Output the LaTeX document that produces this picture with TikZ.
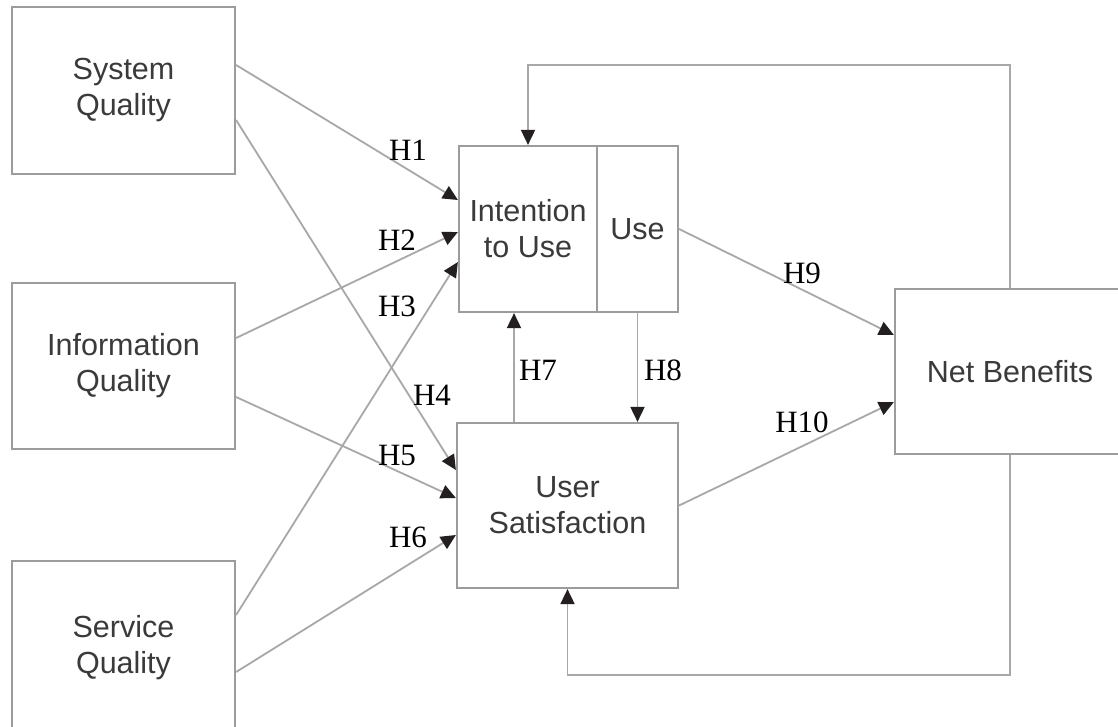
\documentclass[tikz,border=0pt]{standalone}
\usepackage{fontspec}
\setmainfont{Liberation Serif}
\newfontfamily\boxfont{Liberation Sans}
\usetikzlibrary{arrows.meta}
\definecolor{boxline}{HTML}{9C9C9C}
\definecolor{conn}{HTML}{A8A8A8}
\definecolor{boxtext}{HTML}{3A3A3A}
\definecolor{tipcol}{HTML}{231F20}
\tikzset{
  box/.style={draw=boxline, line width=2.2pt, fill=white, inner sep=0pt, align=center,
    text=boxtext, font=\boxfont\fontsize{30.5}{36}\selectfont},
  conn/.style={draw=conn, line width=1.8pt},
  arr/.style={conn, -{Triangle[length=15pt,width=14pt,color=tipcol]}},
  hlab/.style={inner sep=0pt, text=black, font=\fontsize{31}{36}\selectfont}
}
\begin{document}
\begin{tikzpicture}[x=1pt,y=-1pt]
\useasboundingbox[fill=white] (0,0) rectangle (1118,726);
% boxes
\node[box, minimum width=223pt, minimum height=167pt] (sys) at (123.5,90.5) {System\\Quality};
\node[box, minimum width=223pt, minimum height=166pt] (info) at (123.5,366) {Information\\Quality};
\node[box, minimum width=223pt, minimum height=174pt] (serv) at (123.5,648) {Service\\Quality};
\node[box, minimum width=138pt, minimum height=166pt] (int) at (528,229) {Intention\\to Use};
\node[box, minimum width=81pt, minimum height=166pt] (use) at (637.5,229) {Use};
\node[box, minimum width=221pt, minimum height=165pt] (sat) at (567.5,505.5) {User\\Satisfaction};
\node[box, minimum width=230pt, minimum height=165pt] (net) at (1010,371.5) {Net Benefits};
% connectors
\draw[arr] (sys.east |- 0,65) -- (int.west |- 0,200);
\draw[arr] (sys.east |- 0,120) -- (sat.west |- 0,470);
\draw[arr] (info.east |- 0,338) -- (int.west |- 0,232);
\draw[arr] (info.east |- 0,397) -- (sat.west |- 0,498);
\draw[arr] (serv.east |- 0,615) -- (int.west |- 0,262);
\draw[arr] (serv.east |- 0,672) -- (sat.west |- 0,535);
\draw[arr] (sat.north -| 514,0) -- (int.south -| 514,0);
\draw[arr] (use.south) -- (sat.north -| use.south);
\draw[arr] (use.east) -- (net.west |- 0,335);
\draw[arr] (sat.east) -- (net.west |- 0,402);
\draw[arr] (net.north) -- (net.north |- 0,65) -| (int.north);
\draw[arr] (net.south) -- (net.south |- 0,675) -| (sat.south);
% labels
\node[hlab] (h1) at (408,150) {H1};
\node[hlab] (h2) at (397,240) {H2};
\node[hlab] (h3) at (397,306) {H3};
\node[hlab] (h4) at (432,395) {H4};
\node[hlab] (h5) at (397,455) {H5};
\node[hlab] (h6) at (408,537) {H6};
\node[hlab] (h7) at (538,370) {H7};
\node[hlab] (h8) at (663,370) {H8};
\node[hlab] (h9) at (802,273) {H9};
\node[hlab] (h10) at (802,422) {H10};
\end{tikzpicture}
\end{document}
